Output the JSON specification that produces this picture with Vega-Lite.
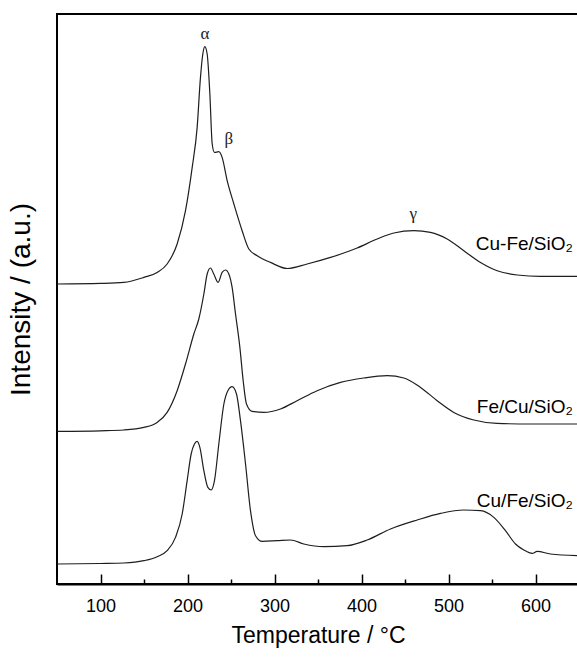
{
  "$schema": "https://vega.github.io/schema/vega-lite/v6.json",
  "autosize": "none",
  "width": 522,
  "height": 570,
  "padding": {"left": 57, "top": 14, "right": 0, "bottom": 73},
  "background": "white",
  "config": {
    "view": {"stroke": "black", "strokeWidth": 2},
    "font": "Liberation Sans"
  },
  "datasets": {
    "curves": [
      {"s": "Cu-Fe/SiO2", "T": 50.2, "I": 300},
      {"s": "Cu-Fe/SiO2", "T": 100, "I": 300.6},
      {"s": "Cu-Fe/SiO2", "T": 126.8, "I": 301.6},
      {"s": "Cu-Fe/SiO2", "T": 149.8, "I": 306.6},
      {"s": "Cu-Fe/SiO2", "T": 165.1, "I": 311.6},
      {"s": "Cu-Fe/SiO2", "T": 176.6, "I": 320},
      {"s": "Cu-Fe/SiO2", "T": 188.1, "I": 340},
      {"s": "Cu-Fe/SiO2", "T": 197.7, "I": 373.3},
      {"s": "Cu-Fe/SiO2", "T": 205.4, "I": 416.6},
      {"s": "Cu-Fe/SiO2", "T": 211.1, "I": 456.6},
      {"s": "Cu-Fe/SiO2", "T": 214.9, "I": 506.6},
      {"s": "Cu-Fe/SiO2", "T": 217.6, "I": 530},
      {"s": "Cu-Fe/SiO2", "T": 219.9, "I": 537.3},
      {"s": "Cu-Fe/SiO2", "T": 222.6, "I": 530},
      {"s": "Cu-Fe/SiO2", "T": 225.7, "I": 490},
      {"s": "Cu-Fe/SiO2", "T": 228.4, "I": 440},
      {"s": "Cu-Fe/SiO2", "T": 231.0, "I": 431.6},
      {"s": "Cu-Fe/SiO2", "T": 236.0, "I": 432.3},
      {"s": "Cu-Fe/SiO2", "T": 239.8, "I": 426.6},
      {"s": "Cu-Fe/SiO2", "T": 245.6, "I": 403.3},
      {"s": "Cu-Fe/SiO2", "T": 253.3, "I": 380},
      {"s": "Cu-Fe/SiO2", "T": 262.8, "I": 353.3},
      {"s": "Cu-Fe/SiO2", "T": 270.5, "I": 335},
      {"s": "Cu-Fe/SiO2", "T": 280.1, "I": 328.3},
      {"s": "Cu-Fe/SiO2", "T": 295.4, "I": 321.6},
      {"s": "Cu-Fe/SiO2", "T": 314.6, "I": 315.5},
      {"s": "Cu-Fe/SiO2", "T": 337.5, "I": 320},
      {"s": "Cu-Fe/SiO2", "T": 364.4, "I": 326.6},
      {"s": "Cu-Fe/SiO2", "T": 395.0, "I": 336},
      {"s": "Cu-Fe/SiO2", "T": 418.0, "I": 345},
      {"s": "Cu-Fe/SiO2", "T": 437.2, "I": 351},
      {"s": "Cu-Fe/SiO2", "T": 460.2, "I": 353.3},
      {"s": "Cu-Fe/SiO2", "T": 479.3, "I": 351.6},
      {"s": "Cu-Fe/SiO2", "T": 498.5, "I": 345},
      {"s": "Cu-Fe/SiO2", "T": 517.6, "I": 333.3},
      {"s": "Cu-Fe/SiO2", "T": 536.8, "I": 321.6},
      {"s": "Cu-Fe/SiO2", "T": 556.0, "I": 313.3},
      {"s": "Cu-Fe/SiO2", "T": 579.0, "I": 309},
      {"s": "Cu-Fe/SiO2", "T": 605.7, "I": 307.6},
      {"s": "Cu-Fe/SiO2", "T": 650.0, "I": 307.6},

      {"s": "Fe/Cu/SiO2", "T": 50.2, "I": 152.6},
      {"s": "Fe/Cu/SiO2", "T": 100, "I": 153.2},
      {"s": "Fe/Cu/SiO2", "T": 126.8, "I": 154},
      {"s": "Fe/Cu/SiO2", "T": 149.8, "I": 156.6},
      {"s": "Fe/Cu/SiO2", "T": 165.1, "I": 161.6},
      {"s": "Fe/Cu/SiO2", "T": 176.6, "I": 171.6},
      {"s": "Fe/Cu/SiO2", "T": 188.1, "I": 193.3},
      {"s": "Fe/Cu/SiO2", "T": 197.7, "I": 220},
      {"s": "Fe/Cu/SiO2", "T": 207.3, "I": 250},
      {"s": "Fe/Cu/SiO2", "T": 213.0, "I": 265},
      {"s": "Fe/Cu/SiO2", "T": 218.8, "I": 290},
      {"s": "Fe/Cu/SiO2", "T": 222.6, "I": 310},
      {"s": "Fe/Cu/SiO2", "T": 226.4, "I": 316},
      {"s": "Fe/Cu/SiO2", "T": 230.2, "I": 310},
      {"s": "Fe/Cu/SiO2", "T": 235.2, "I": 301.6},
      {"s": "Fe/Cu/SiO2", "T": 239.8, "I": 311.6},
      {"s": "Fe/Cu/SiO2", "T": 243.7, "I": 314},
      {"s": "Fe/Cu/SiO2", "T": 247.5, "I": 310},
      {"s": "Fe/Cu/SiO2", "T": 251.3, "I": 296.6},
      {"s": "Fe/Cu/SiO2", "T": 255.2, "I": 270},
      {"s": "Fe/Cu/SiO2", "T": 260.2, "I": 236.6},
      {"s": "Fe/Cu/SiO2", "T": 264.0, "I": 203.3},
      {"s": "Fe/Cu/SiO2", "T": 267.8, "I": 180},
      {"s": "Fe/Cu/SiO2", "T": 274.3, "I": 172.6},
      {"s": "Fe/Cu/SiO2", "T": 287.7, "I": 171.6},
      {"s": "Fe/Cu/SiO2", "T": 306.9, "I": 175},
      {"s": "Fe/Cu/SiO2", "T": 326.0, "I": 183.3},
      {"s": "Fe/Cu/SiO2", "T": 349.0, "I": 193.3},
      {"s": "Fe/Cu/SiO2", "T": 375.9, "I": 201.6},
      {"s": "Fe/Cu/SiO2", "T": 402.7, "I": 206},
      {"s": "Fe/Cu/SiO2", "T": 429.5, "I": 208.3},
      {"s": "Fe/Cu/SiO2", "T": 448.7, "I": 206},
      {"s": "Fe/Cu/SiO2", "T": 467.8, "I": 196.6},
      {"s": "Fe/Cu/SiO2", "T": 487.0, "I": 183.3},
      {"s": "Fe/Cu/SiO2", "T": 506.1, "I": 171.6},
      {"s": "Fe/Cu/SiO2", "T": 529.1, "I": 164},
      {"s": "Fe/Cu/SiO2", "T": 555.9, "I": 160.6},
      {"s": "Fe/Cu/SiO2", "T": 594.3, "I": 160},
      {"s": "Fe/Cu/SiO2", "T": 650.0, "I": 160},

      {"s": "Cu/Fe/SiO2", "T": 50.2, "I": 20},
      {"s": "Cu/Fe/SiO2", "T": 100, "I": 20.5},
      {"s": "Cu/Fe/SiO2", "T": 126.8, "I": 21},
      {"s": "Cu/Fe/SiO2", "T": 149.8, "I": 23.3},
      {"s": "Cu/Fe/SiO2", "T": 165.1, "I": 27.3},
      {"s": "Cu/Fe/SiO2", "T": 176.6, "I": 33.3},
      {"s": "Cu/Fe/SiO2", "T": 186.2, "I": 46.6},
      {"s": "Cu/Fe/SiO2", "T": 193.9, "I": 70},
      {"s": "Cu/Fe/SiO2", "T": 199.6, "I": 103.3},
      {"s": "Cu/Fe/SiO2", "T": 204.2, "I": 130},
      {"s": "Cu/Fe/SiO2", "T": 208.0, "I": 140},
      {"s": "Cu/Fe/SiO2", "T": 211.1, "I": 142.6},
      {"s": "Cu/Fe/SiO2", "T": 214.2, "I": 136.6},
      {"s": "Cu/Fe/SiO2", "T": 218.8, "I": 113.3},
      {"s": "Cu/Fe/SiO2", "T": 223.4, "I": 96.6},
      {"s": "Cu/Fe/SiO2", "T": 227.2, "I": 94},
      {"s": "Cu/Fe/SiO2", "T": 231.0, "I": 103.3},
      {"s": "Cu/Fe/SiO2", "T": 236.0, "I": 140},
      {"s": "Cu/Fe/SiO2", "T": 241.8, "I": 180},
      {"s": "Cu/Fe/SiO2", "T": 246.4, "I": 193.3},
      {"s": "Cu/Fe/SiO2", "T": 251.3, "I": 197.3},
      {"s": "Cu/Fe/SiO2", "T": 256.3, "I": 190},
      {"s": "Cu/Fe/SiO2", "T": 260.9, "I": 163.3},
      {"s": "Cu/Fe/SiO2", "T": 266.7, "I": 120},
      {"s": "Cu/Fe/SiO2", "T": 272.4, "I": 73.3},
      {"s": "Cu/Fe/SiO2", "T": 278.2, "I": 48.3},
      {"s": "Cu/Fe/SiO2", "T": 285.8, "I": 42.6},
      {"s": "Cu/Fe/SiO2", "T": 303.1, "I": 43.3},
      {"s": "Cu/Fe/SiO2", "T": 318.4, "I": 44},
      {"s": "Cu/Fe/SiO2", "T": 333.7, "I": 40},
      {"s": "Cu/Fe/SiO2", "T": 356.7, "I": 37.3},
      {"s": "Cu/Fe/SiO2", "T": 383.5, "I": 38.3},
      {"s": "Cu/Fe/SiO2", "T": 406.5, "I": 44},
      {"s": "Cu/Fe/SiO2", "T": 433.3, "I": 55},
      {"s": "Cu/Fe/SiO2", "T": 464.0, "I": 64},
      {"s": "Cu/Fe/SiO2", "T": 490.8, "I": 70.6},
      {"s": "Cu/Fe/SiO2", "T": 517.6, "I": 74},
      {"s": "Cu/Fe/SiO2", "T": 536.8, "I": 73.3},
      {"s": "Cu/Fe/SiO2", "T": 552.1, "I": 66.6},
      {"s": "Cu/Fe/SiO2", "T": 565.5, "I": 53.3},
      {"s": "Cu/Fe/SiO2", "T": 577.0, "I": 40},
      {"s": "Cu/Fe/SiO2", "T": 586.6, "I": 34},
      {"s": "Cu/Fe/SiO2", "T": 596.2, "I": 30.6},
      {"s": "Cu/Fe/SiO2", "T": 601.9, "I": 32.6},
      {"s": "Cu/Fe/SiO2", "T": 617.2, "I": 30},
      {"s": "Cu/Fe/SiO2", "T": 650.0, "I": 28.3}
    ],
    "names": [
      {"label": "Cu-Fe/SiO₂", "T": 643, "I": 340},
      {"label": "Fe/Cu/SiO₂", "T": 643, "I": 176.6},
      {"label": "Cu/Fe/SiO₂", "T": 643, "I": 83.3}
    ],
    "peaks": [
      {"label": "α", "T": 220, "I": 550},
      {"label": "β", "T": 247.5, "I": 445},
      {"label": "γ", "T": 459.4, "I": 370}
    ]
  },
  "encoding": {
    "x": {
      "field": "T",
      "type": "quantitative",
      "scale": {"domain": [50, 650], "nice": false, "zero": false},
      "axis": {
        "title": "Temperature / °C",
        "titleFontSize": 23,
        "titleFontWeight": "normal",
        "titleColor": "black",
        "titlePadding": 9,
        "values": [100, 150, 200, 250, 300, 350, 400, 450, 500, 550, 600],
        "labelExpr": "datum.value % 100 === 0 ? datum.label : ''",
        "labelFontSize": 18,
        "labelColor": "black",
        "labelPadding": 23,
        "labelFlush": false,
        "tickSize": {"condition": {"test": "datum.value % 100 === 0", "value": -10}, "value": -5},
        "tickColor": "black",
        "tickWidth": 1.5,
        "domainColor": "black",
        "domainWidth": 2,
        "grid": false
      }
    },
    "y": {
      "field": "I",
      "type": "quantitative",
      "scale": {"domain": [0, 570], "nice": false, "zero": false},
      "axis": {
        "title": "Intensity / (a.u.)",
        "titleFontSize": 28,
        "titleFontWeight": "normal",
        "titleColor": "black",
        "titlePadding": 22,
        "labels": false,
        "ticks": false,
        "domain": false,
        "grid": false
      }
    }
  },
  "layer": [
    {
      "data": {"name": "curves"},
      "mark": {"type": "line", "color": "#1e1e1e", "strokeWidth": 1.2, "interpolate": "monotone", "clip": true},
      "encoding": {"detail": {"field": "s"}}
    },
    {
      "data": {"name": "names"},
      "mark": {"type": "text", "align": "right", "baseline": "middle", "fontSize": 19, "color": "black"},
      "encoding": {"text": {"field": "label"}}
    },
    {
      "data": {"name": "peaks"},
      "mark": {"type": "text", "align": "center", "baseline": "middle", "fontSize": 17, "color": "#222", "font": "Liberation Serif"},
      "encoding": {"text": {"field": "label"}}
    }
  ]
}
